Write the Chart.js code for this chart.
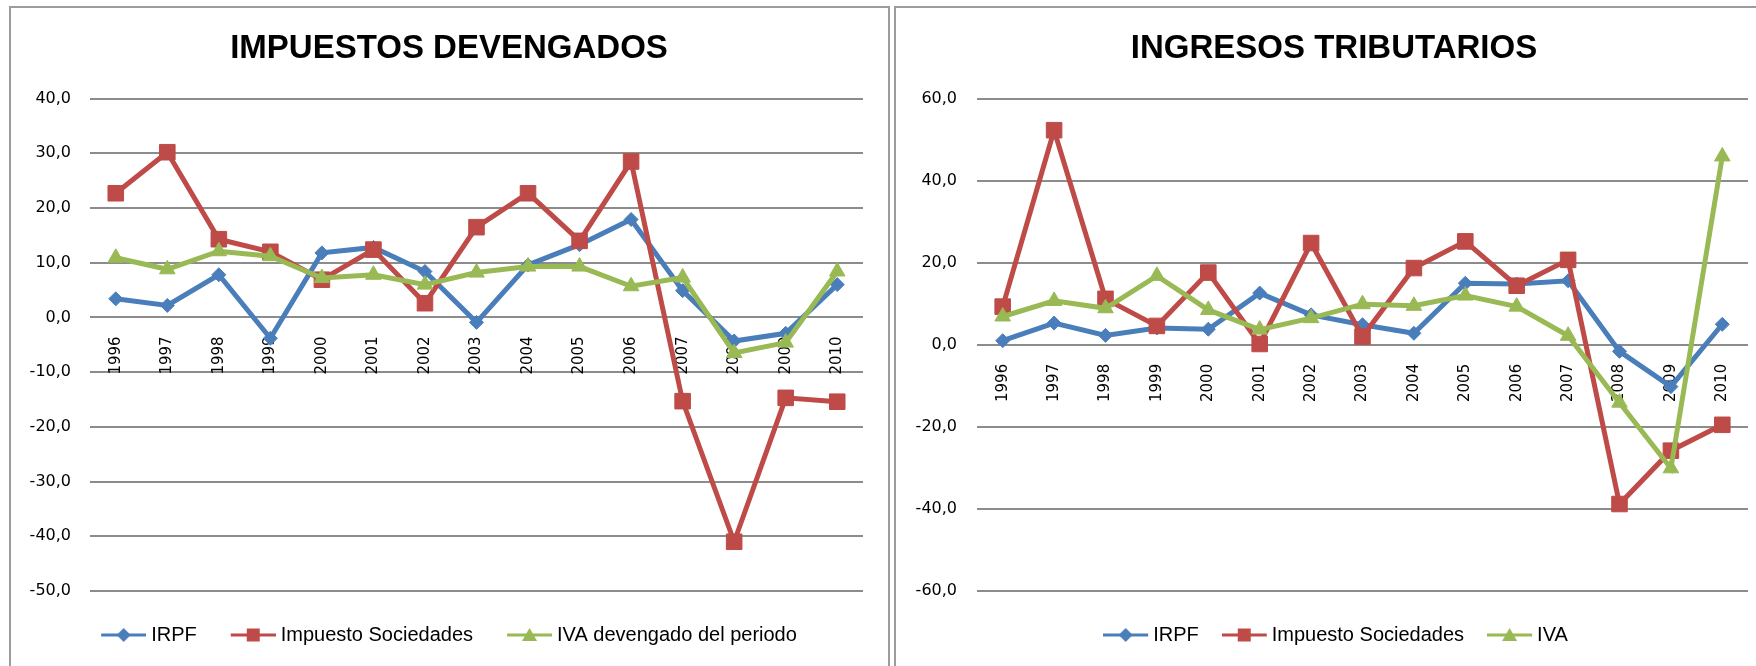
<!DOCTYPE html>
<html>
<head>
<meta charset="utf-8">
<script src="https://cdn.jsdelivr.net/npm/chart.js@4/dist/chart.umd.min.js"></script>
<style>
    html, body { margin: 0; padding: 0; background: #fff; }
    body { width: 1756px; height: 666px; overflow: hidden; position: relative; }
    .frame { position: absolute; top: 6px; border: 2px solid #9c9c9c; background: #fff; }
    #frameLeft { left: 9px; width: 877px; height: 662px; }
    #frameRight { left: 894px; width: 882px; height: 662px; }
    canvas { display: block; }
</style>
</head>
<body>
<div class="frame" id="frameLeft"><canvas id="chartLeft" width="877" height="662"></canvas></div>
<div class="frame" id="frameRight"><canvas id="chartRight" width="882" height="662"></canvas></div>
<script>
// años del eje de categorías
const anios = ['1996', '1997', '1998', '1999', '2000', '2001', '2002', '2003', '2004', '2005', '2006', '2007', '2008', '2009', '2010'];

// Impuestos devengados (tasa de variación, %)
const irpfDevengado = [3.4, 2.2, 7.8, -3.8, 11.8, 12.8, 8.4, -0.9, 9.6, 13.3, 17.9, 4.9, -4.3, -2.9, 6.0];
const sociedadesDevengado = [22.7, 30.2, 14.3, 12.0, 6.9, 12.4, 2.6, 16.5, 22.7, 14.0, 28.5, -15.3, -41.0, -14.7, -15.4];
const ivaDevengado = [10.9, 8.8, 12.1, 11.2, 7.2, 7.8, 6.0, 8.2, 9.3, 9.3, 5.7, 7.3, -6.5, -4.6, 8.4];

// Ingresos tributarios (tasa de variación, %)
const irpfIngresos = [1.0, 5.3, 2.3, 4.1, 3.8, 12.6, 7.3, 4.9, 2.8, 15.0, 14.8, 15.6, -1.6, -10.2, 5.0];
const sociedadesIngresos = [9.3, 52.3, 11.2, 4.6, 17.6, 0.2, 24.8, 2.0, 18.7, 25.2, 14.4, 20.7, -38.8, -25.8, -19.5];
const ivaIngresos = [6.9, 10.7, 8.9, 16.8, 8.5, 3.7, 6.5, 9.9, 9.5, 12.0, 9.3, 2.2, -14.1, -30.1, 45.9];

const etiquetasDevengados = ['IRPF', 'Impuesto Sociedades', 'IVA devengado del periodo'];
const etiquetasIngresos = ['IRPF', 'Impuesto Sociedades', 'IVA'];

const colores = ['#4A7EBB', '#BE4B48', '#98B954'];
const estilos = ['rectRot', 'rect', 'triangle'];
const radios = [7, 11, 9];

// icono de leyenda: línea de 45px con el marcador en el centro.
// Chart.js centra la imagen en la caja (ancho w), la línea tiene que acabar
// 5px antes del texto, así que el lienzo se hace asimétrico
function iconoLeyenda(color, estilo, w) {
    let hw = Math.max(40 - w / 2, w / 2 + 5);
    let x0 = w / 2 - 40 + hw;
    let c = document.createElement('canvas');
    c.width = Math.ceil(hw * 2);
    c.height = 16;
    let ctx = c.getContext('2d');
    ctx.strokeStyle = color;
    ctx.fillStyle = color;
    ctx.lineWidth = 3;
    ctx.beginPath();
    ctx.moveTo(x0, 8);
    ctx.lineTo(x0 + 45, 8);
    ctx.stroke();
    let cx = x0 + 22.5;
    ctx.beginPath();
    if (estilo === 'rectRot') {
        ctx.moveTo(cx, 1); ctx.lineTo(cx + 7, 8); ctx.lineTo(cx, 15); ctx.lineTo(cx - 7, 8);
    } else if (estilo === 'rect') {
        ctx.rect(cx - 6.5, 1.5, 13, 13);
    } else {
        ctx.moveTo(cx, 1); ctx.lineTo(cx + 7.5, 14); ctx.lineTo(cx - 7.5, 14);
    }
    ctx.closePath();
    ctx.fill();
    return c;
}

// mueve leyenda y título en horizontal sin tocar el área del gráfico
const desplazaCajas = {
    id: 'desplazaCajas',
    afterLayout: function(chart, args, opts) {
        chart.legend.left += opts.dxLeyenda;
        chart.legend.right += opts.dxLeyenda;
        chart.titleBlock.left += opts.dxTitulo;
        chart.titleBlock.right += opts.dxTitulo;
    }
};

function formatoEs(v) {
    return v.toFixed(1).replace('.', ',');
}

function crearGrafico(id, titulo, series, etiquetas, yMin, yMax, paso, cfg) {
    let iconos = colores.map((col, i) => iconoLeyenda(col, estilos[i], cfg.cajaLeyenda));
    let datasets = series.map(function(valores, i) {
        return {
            label: etiquetas[i],
            data: valores,
            borderColor: colores[i],
            backgroundColor: colores[i],
            borderWidth: 5,
            pointStyle: estilos[i],
            pointRadius: radios[i],
            pointHoverRadius: radios[i],
            pointBackgroundColor: colores[i],
            pointBorderColor: colores[i],
            pointBorderWidth: 1,
            tension: 0,
            order: 3 - i
        };
    });

    let ctx = document.getElementById(id).getContext('2d');
    new Chart(ctx, {
        type: 'line',
        data: { labels: anios, datasets: datasets },
        plugins: [desplazaCajas],
        options: {
            responsive: false,
            animation: false,
            events: [],
            layout: { padding: { left: 0, right: cfg.padDer, top: 0, bottom: 15 } },
            plugins: {
                desplazaCajas: { dxLeyenda: cfg.dxLeyenda, dxTitulo: cfg.dxTitulo },
                title: {
                    display: true,
                    text: titulo,
                    color: '#000',
                    font: { family: 'Liberation Sans, Arial, sans-serif', size: 33, weight: 'bold' },
                    padding: { top: 21, bottom: 30 }
                },
                legend: {
                    position: 'bottom',
                    labels: {
                        usePointStyle: true,
                        pointStyleWidth: cfg.cajaLeyenda,
                        padding: 34,
                        color: '#000',
                        font: { family: 'Liberation Sans, Arial, sans-serif', size: 20 },
                        generateLabels: function(chart) {
                            return chart.data.datasets.map(function(ds, i) {
                                return {
                                    text: ds.label,
                                    pointStyle: iconos[i],
                                    fillStyle: ds.borderColor,
                                    strokeStyle: ds.borderColor,
                                    lineWidth: 0,
                                    hidden: false,
                                    datasetIndex: i,
                                    fontColor: '#000'
                                };
                            });
                        }
                    }
                },
                tooltip: { enabled: false }
            },
            scales: {
                x: {
                    position: { y: 0 },
                    offset: true,
                    grid: { display: false, drawTicks: false },
                    border: { display: false },
                    ticks: {
                        minRotation: 90,
                        maxRotation: 90,
                        autoSkip: false,
                        padding: 19,
                        color: '#000',
                        font: { family: 'DejaVu Sans, sans-serif', size: 15 }
                    }
                },
                y: {
                    min: yMin,
                    max: yMax,
                    afterFit: function(scale) { scale.width = cfg.anchoEje; },
                    grid: { color: '#8c8c8c', lineWidth: 2, drawTicks: false },
                    border: { display: false },
                    ticks: {
                        stepSize: paso,
                        padding: cfg.sepEje,
                        color: '#000',
                        font: { family: 'DejaVu Sans, sans-serif', size: 16 },
                        callback: function(v) { return formatoEs(v); }
                    }
                }
            }
        }
    });
}

crearGrafico('chartLeft', 'IMPUESTOS DEVENGADOS',
    [irpfDevengado, sociedadesDevengado, ivaDevengado], etiquetasDevengados, -50, 40, 10,
    { padDer: 25, anchoEje: 79, sepEje: 19, cajaLeyenda: 40, dxLeyenda: 12, dxTitulo: 12 });
crearGrafico('chartRight', 'INGRESOS TRIBUTARIOS',
    [irpfIngresos, sociedadesIngresos, ivaIngresos], etiquetasIngresos, -60, 60, 20,
    { padDer: 30, anchoEje: 81, sepEje: 20, cajaLeyenda: 29, dxLeyenda: 19, dxTitulo: 12 });
</script>
</body>
</html>
